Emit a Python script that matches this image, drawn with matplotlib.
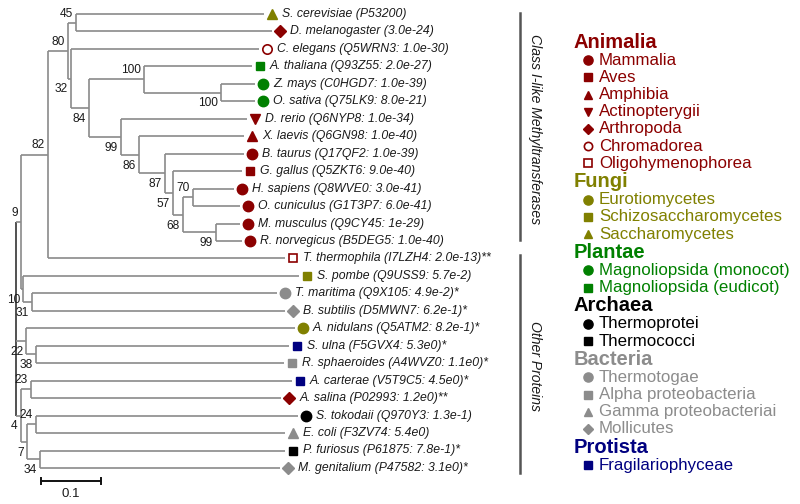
import matplotlib
matplotlib.use("Agg")
import matplotlib.pyplot as plt

plt.rcParams['font.family'] = ['Liberation Sans', 'DejaVu Sans']

# leaves, top to bottom
leaf_labels = [
    "S. cerevisiae (P53200)", "D. melanogaster (3.0e-24)", "C. elegans (Q5WRN3: 1.0e-30)",
    "A. thaliana (Q93Z55: 2.0e-27)", "Z. mays (C0HGD7: 1.0e-39)", "O. sativa (Q75LK9: 8.0e-21)",
    "D. rerio (Q6NYP8: 1.0e-34)", "X. laevis (Q6GN98: 1.0e-40)", "B. taurus (Q17QF2: 1.0e-39)",
    "G. gallus (Q5ZKT6: 9.0e-40)", "H. sapiens (Q8WVE0: 3.0e-41)", "O. cuniculus (G1T3P7: 6.0e-41)",
    "M. musculus (Q9CY45: 1e-29)", "R. norvegicus (B5DEG5: 1.0e-40)",
    "T. thermophila (I7LZH4: 2.0e-13)**", "S. pombe (Q9USS9: 5.7e-2)", "T. maritima (Q9X105: 4.9e-2)*",
    "B. subtilis (D5MWN7: 6.2e-1)*", "A. nidulans (Q5ATM2: 8.2e-1)*", "S. ulna (F5GVX4: 5.3e0)*",
    "R. sphaeroides (A4WVZ0: 1.1e0)*", "A. carterae (V5T9C5: 4.5e0)*", "A. salina (P02993: 1.2e0)**",
    "S. tokodaii (Q970Y3: 1.3e-1)", "E. coli (F3ZV74: 5.4e0)", "P. furiosus (P61875: 7.8e-1)*",
    "M. genitalium (P47582: 3.1e0)*",
]
leaf_depth = [0.413, 0.427, 0.405, 0.393, 0.398, 0.398, 0.385, 0.380, 0.380, 0.377, 0.363,
              0.373, 0.373, 0.377, 0.448, 0.472, 0.435, 0.448, 0.465, 0.455, 0.447, 0.460,
              0.442, 0.470, 0.448, 0.448, 0.440]
leaf_class = [
    "Saccharomycetes", "Arthropoda", "Chromadorea", "Magnoliopsida (eudicot)",
    "Magnoliopsida (monocot)", "Magnoliopsida (monocot)", "Actinopterygii", "Amphibia",
    "Mammalia", "Aves", "Mammalia", "Mammalia", "Mammalia", "Mammalia", "Oligohymenophorea",
    "Schizosaccharomycetes", "Thermotogae", "Mollicutes", "Eurotiomycetes", "Fragilariophyceae",
    "Alpha proteobacteria", "Fragilariophyceae", "Arthropoda", "Thermoprotei",
    "Gamma proteobacteriai", "Thermococci", "Mollicutes",
]

# internal nodes (children are leaf indices or node names), depth, bootstrap
clade_names = ["n45", "nplB", "nplA", "nMR", "nHO", "n68", "n57", "n87", "n86", "n99",
               "n84", "n32", "n80", "n82", "n31", "n10", "n9", "n38", "n22", "n23",
               "n24", "n34", "n7", "n4", "root"]
clade_children = [(0, 1), (4, 5), (3, "nplB"), (12, 13), (10, 11), ("nHO", "nMR"),
                  (9, "n68"), (8, "n57"), (7, "n87"), (6, "n86"), ("nplA", "n99"),
                  (2, "n84"), ("n45", "n32"), ("n80", 14), (16, 17), (15, "n31"),
                  ("n82", "n10"), (19, 20), (18, "n38"), (21, 22), (23, 24), (25, 26),
                  ("n24", "n34"), ("n23", "n7"), ("n9", "n22", "n4")]
clade_depth = [0.100, 0.342, 0.213, 0.333, 0.295, 0.278, 0.262, 0.248, 0.205, 0.175,
               0.122, 0.092, 0.087, 0.053, 0.027, 0.012, 0.008, 0.033, 0.017, 0.025,
               0.033, 0.040, 0.018, 0.008, 0.0]
clade_boot = [45, 100, 100, 99, 70, 68, 57, 87, 86, 99, 84, 32, 80, 82, 31, 10, 9, 38,
              22, 23, 24, 34, 7, 4, None]
boot_above = {"n45", "nplA", "nHO", "n80", "n82", "n9", "n23", "n24"}

# legend
kingdoms = ["Animalia", "Fungi", "Plantae", "Archaea", "Bacteria", "Protista"]
kingdom_colors = ["#8b0000", "#808000", "#008000", "#000000", "#8c8c8c", "#000080"]
kingdom_classes = [
    ["Mammalia", "Aves", "Amphibia", "Actinopterygii", "Arthropoda", "Chromadorea",
     "Oligohymenophorea"],
    ["Eurotiomycetes", "Schizosaccharomycetes", "Saccharomycetes"],
    ["Magnoliopsida (monocot)", "Magnoliopsida (eudicot)"],
    ["Thermoprotei", "Thermococci"],
    ["Thermotogae", "Alpha proteobacteria", "Gamma proteobacteriai", "Mollicutes"],
    ["Fragilariophyceae"],
]
class_marker = {
    "Mammalia": "o", "Aves": "s", "Amphibia": "^", "Actinopterygii": "v", "Arthropoda": "D",
    "Chromadorea": "o", "Oligohymenophorea": "s", "Eurotiomycetes": "o",
    "Schizosaccharomycetes": "s", "Saccharomycetes": "^", "Magnoliopsida (monocot)": "o",
    "Magnoliopsida (eudicot)": "s", "Thermoprotei": "o", "Thermococci": "s",
    "Thermotogae": "o", "Alpha proteobacteria": "s", "Gamma proteobacteriai": "^",
    "Mollicutes": "D", "Fragilariophyceae": "s",
}
open_classes = {"Chromadorea", "Oligohymenophorea"}
class_color = {}
for col, classes in zip(kingdom_colors, kingdom_classes):
    for c in classes:
        class_color[c] = col

size_mult = {"o": 1.0, "s": 0.85, "^": 0.95, "v": 0.95, "D": 0.78}

W, H = 800, 504
PX = 1 / 600.0      # one pixel in branch-length units
ROW = 17.46         # pixels per leaf row

fig = plt.figure(figsize=(W / 100, H / 100), dpi=100)
ax = fig.add_axes([0, 0, 1, 1])
ax.set_xlim(-16 * PX, (W - 16) * PX)
ax.set_ylim((H - 14) / ROW, -14 / ROW)
ax.axis("off")

line_col = "#8a8a8a"
pos = {}
for i, d in enumerate(leaf_depth):
    pos[i] = (d, float(i))

for name, ch, d, b in zip(clade_names, clade_children, clade_depth, clade_boot):
    ys = [pos[c][1] for c in ch]
    y = sum(ys) / len(ys) if len(ch) == 2 else (min(ys) + max(ys)) / 2
    pos[name] = (d, y)
    lc = "#333333" if name == "root" else line_col
    ax.plot([d, d], [min(ys), max(ys)], color=lc, lw=1.2, solid_capstyle="butt")
    for c in ch:
        ax.plot([d, pos[c][0]], [pos[c][1], pos[c][1]], color=line_col, lw=1.2,
                solid_capstyle="butt")
    if b is not None:
        dy = -0.52 if name in boot_above else 0.62
        ax.text(d - 3 * PX, y + dy, str(b), ha="right", va="center", fontsize=8.6,
                color="#1a1a1a")

def draw_marker(x, y, cls, ms, transform=None):
    m = class_marker[cls]
    col = class_color[cls]
    kw = dict(marker=m, ms=ms * size_mult[m], color=col, ls="none", clip_on=False)
    if cls in open_classes:
        kw.update(mfc="white", mec=col, mew=1.2, ms=ms * size_mult[m] * 0.9)
    if transform is not None:
        kw["transform"] = transform
    ax.plot([x], [y], **kw)

for i, (lab, d, cls) in enumerate(zip(leaf_labels, leaf_depth, leaf_class)):
    draw_marker(d + 8 * PX, i, cls, 7.5)
    ax.text(d + 18 * PX, i, lab, ha="left", va="center", fontsize=8.8, style="italic",
            color="#1a1a1a")

# scale bar
sb_x, sb_len, sb_y = 0.042, 0.1, (481 - 14) / ROW
ax.plot([sb_x, sb_x + sb_len], [sb_y, sb_y], color="#111111", lw=1.4)
for xx in (sb_x, sb_x + sb_len):
    ax.plot([xx, xx], [sb_y - 0.17, sb_y + 0.17], color="#111111", lw=1.4)
ax.text(sb_x + sb_len / 2, sb_y + 0.72, "0.1", ha="center", va="center", fontsize=9.5,
        color="#1a1a1a")

# group brackets
T = ax.transAxes
def fx(px):
    return px / W
def fy(py):
    return 1 - py / H

ax.plot([fx(520), fx(520)], [fy(13), fy(240)], transform=T, color="#555555", lw=1.8)
ax.plot([fx(520), fx(520)], [fy(255), fy(473)], transform=T, color="#555555", lw=1.8)
ax.text(fx(535), fy(129), "Class I-like Methyltransferases", transform=T, rotation=-90,
        ha="center", va="center", fontsize=10.1, style="italic", color="#1a1a1a")
ax.text(fx(535), fy(366), "Other Proteins", transform=T, rotation=-90,
        ha="center", va="center", fontsize=10.1, style="italic", color="#1a1a1a")

# legend
y = 42
for k, col, classes in zip(kingdoms, kingdom_colors, kingdom_classes):
    ax.text(fx(574), fy(y), k, transform=T, ha="left", va="center", fontsize=14.5,
            fontweight="bold", color=col)
    y += 18.2
    for c in classes:
        draw_marker(fx(588), fy(y), c, 6.6, transform=T)
        ax.text(fx(599), fy(y), c, transform=T, ha="left", va="center", fontsize=12.2,
                color=col)
        y += 17.2
    y += 0.9

fig.savefig("out.png", dpi=100)
